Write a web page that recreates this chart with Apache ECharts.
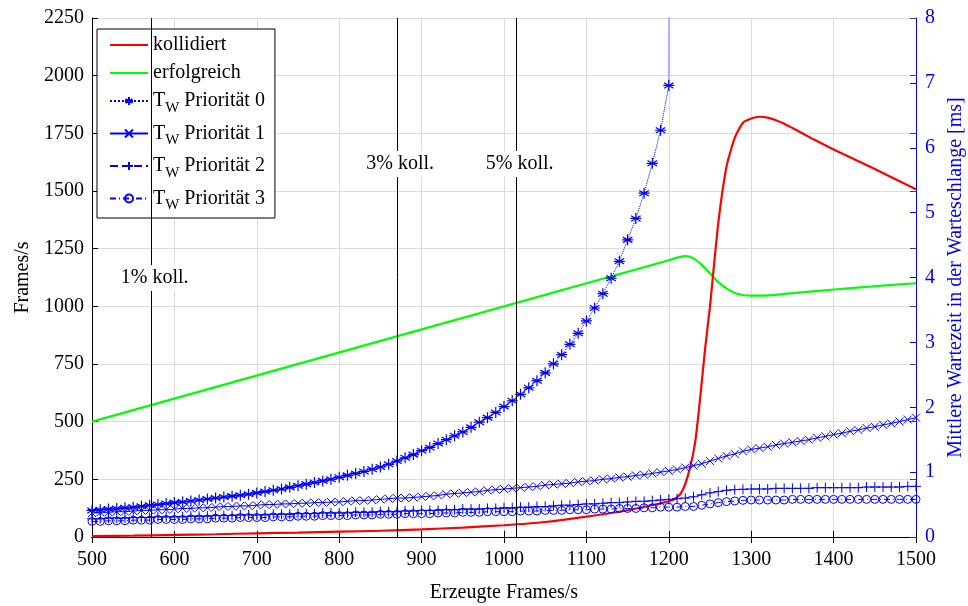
<!DOCTYPE html>
<html><head><meta charset="utf-8">
<script src="https://cdn.jsdelivr.net/npm/echarts@6/dist/echarts.min.js"></script>
<style>html,body{margin:0;padding:0;background:#fff}#c{width:968px;height:606px}</style>
</head><body><div id="c"></div>
<script>
const FONT = 'Liberation Serif';

// x samples of the waiting-time curves (Erzeugte Frames/s)
const frameSteps = [500,510,520,530,540,550,560,570,580,590,600,610,620,630,640,650,660,670,680,690,
  700,710,720,730,740,750,760,770,780,790,800,810,820,830,840,850,860,870,880,890,
  900,910,920,930,940,950,960,970,980,990,1000,1010,1020,1030,1040,1050,1060,1070,1080,1090,
  1100,1110,1120,1130,1140,1150,1160,1170,1180,1190,1200,1210,1220,1230,1240,1250,1260,1270,1280,1290,
  1300,1310,1320,1330,1340,1350,1360,1370,1380,1390,1400,1410,1420,1430,1440,1450,1460,1470,1480,1490,1500];

// kollidiert (Frames/s)
const redX = [500,550,600,650,700,750,800,850,900,950,1000,1050,1100,1150,1200,1210,1217,1225,1232,1238,1244,1250,1260,1270,1280,1290,1300,1310,1320,1330,1340,1350,1375,1400,1450,1500];
const kollidiert = [4,6,9,12,16,19,23,27,33,41,51,65,88,116,155,172,204,290,410,600,815,1000,1360,1605,1730,1796,1814,1822,1818,1807,1792,1773,1725,1680,1595,1508];

// erfolgreich (Frames/s)
const greenX = [500,1200,1210,1220,1230,1240,1250,1260,1270,1280,1290,1300,1310,1350,1400,1450,1500];
const erfolgreich = [500,1200,1211,1218,1208,1180,1143,1105,1078,1058,1049,1046,1046,1057,1073,1087,1100];

// mittlere Wartezeit [ms]
const prio0 = [0.41,0.42,0.43,0.44,0.45,0.46,0.475,0.49,0.50,0.515,
  0.53,0.54,0.555,0.57,0.585,0.60,0.615,0.63,0.645,0.66,
  0.68,0.70,0.72,0.74,0.765,0.79,0.815,0.84,0.865,0.89,
  0.92,0.95,0.98,1.01,1.045,1.08,1.12,1.17,1.22,1.27,
  1.33,1.38,1.44,1.50,1.56,1.62,1.69,1.77,1.84,1.92,
  2.01,2.10,2.20,2.30,2.41,2.53,2.67,2.81,2.97,3.14,
  3.33,3.53,3.75,3.99,4.25,4.58,4.91,5.30,5.76,6.27,
  6.96,60];
const prio1 = [0.37,0.38,0.38,0.39,0.39,0.40,0.41,0.41,0.42,0.42,
  0.43,0.44,0.44,0.45,0.45,0.46,0.47,0.47,0.48,0.48,
  0.49,0.50,0.50,0.51,0.51,0.52,0.52,0.53,0.53,0.54,
  0.54,0.55,0.56,0.56,0.57,0.58,0.59,0.60,0.60,0.61,
  0.62,0.63,0.64,0.66,0.67,0.68,0.69,0.70,0.72,0.73,
  0.74,0.75,0.76,0.77,0.78,0.80,0.81,0.82,0.83,0.85,
  0.86,0.87,0.89,0.90,0.92,0.93,0.95,0.96,0.98,1.00,
  1.02,1.04,1.07,1.10,1.13,1.17,1.21,1.25,1.28,1.32,
  1.35,1.37,1.39,1.42,1.44,1.46,1.48,1.50,1.53,1.55,
  1.58,1.60,1.63,1.65,1.68,1.70,1.73,1.75,1.78,1.81,
  1.84];
const prio2 = [0.28,0.28,0.29,0.29,0.29,0.30,0.30,0.30,0.31,0.31,
  0.31,0.31,0.32,0.32,0.32,0.33,0.33,0.33,0.34,0.34,
  0.34,0.34,0.35,0.35,0.35,0.36,0.36,0.36,0.37,0.37,
  0.37,0.37,0.38,0.38,0.38,0.39,0.39,0.39,0.40,0.40,
  0.41,0.41,0.41,0.42,0.42,0.43,0.43,0.43,0.44,0.44,
  0.45,0.45,0.46,0.46,0.47,0.47,0.48,0.49,0.49,0.50,
  0.51,0.51,0.52,0.53,0.53,0.54,0.55,0.55,0.56,0.57,
  0.58,0.59,0.60,0.62,0.65,0.68,0.70,0.72,0.73,0.735,
  0.74,0.74,0.74,0.75,0.75,0.75,0.75,0.75,0.76,0.76,
  0.76,0.76,0.76,0.76,0.77,0.77,0.77,0.77,0.77,0.78,
  0.78];
const prio3 = [0.24,0.24,0.25,0.25,0.25,0.26,0.26,0.26,0.27,0.27,
  0.27,0.27,0.28,0.28,0.28,0.29,0.29,0.29,0.30,0.30,
  0.30,0.30,0.31,0.31,0.31,0.32,0.32,0.32,0.33,0.33,
  0.33,0.33,0.34,0.34,0.34,0.35,0.35,0.35,0.36,0.36,
  0.36,0.36,0.37,0.37,0.37,0.38,0.38,0.38,0.39,0.39,
  0.39,0.39,0.40,0.40,0.40,0.41,0.41,0.41,0.42,0.42,
  0.42,0.43,0.43,0.43,0.44,0.44,0.44,0.45,0.45,0.46,
  0.46,0.46,0.47,0.47,0.49,0.51,0.53,0.545,0.555,0.565,
  0.57,0.57,0.57,0.57,0.57,0.58,0.58,0.58,0.58,0.58,
  0.58,0.58,0.58,0.58,0.58,0.58,0.58,0.58,0.58,0.58,
  0.58];

// collision thresholds (vertical markers)
const kollThresholds = [572, 870, 1015];
const kollLabels = ['1% koll.', '3% koll.', '5% koll.'];
const kollLabelLevels = [1123, 1617, 1617];

const seriesNames = ['kollidiert','erfolgreich','T_W Priorität 0','T_W Priorität 1','T_W Priorität 2','T_W Priorität 3'];

const zip = (xs, ys) => ys.map((y, i) => [xs[i], y]);

const BLUE = '#0000ff';
const STAR = 'path://M5,0L5,10M0.67,2.5L9.33,7.5M0.67,7.5L9.33,2.5M0,5L10,5';
const CROSS = 'path://M0,0L10,10M0,10L10,0';
const PLUS = 'path://M5,0L5,10M0,5L10,5';

function blueSeries(name, data, symbol, size, lineType, bw) {
  return {
    name, type: 'line', yAxisIndex: 1, data, symbol, symbolSize: size,
    showAllSymbol: true, silent: true, clip: true,
    lineStyle: { color: BLUE, width: 1, type: lineType },
    itemStyle: { color: 'transparent', borderColor: BLUE, borderWidth: bw || 1 },
    emphasis: { disabled: true }
  };
}

const chart = echarts.init(document.getElementById('c'));
const txt = { fontFamily: FONT, fontSize: 20, color: '#000' };
const plain = v => String(v);
chart.setOption({
  animation: false,
  backgroundColor: '#fff',
  textStyle: { fontFamily: FONT },
  grid: { left: 92, right: 52, top: 18, bottom: 69, containLabel: false, outerBoundsMode: 'none' },
  legend: {
    orient: 'vertical', left: 97, top: 29,
    backgroundColor: '#fff', borderColor: '#000', borderWidth: 1,
    padding: [6, 10, 5, 12], itemGap: 8, itemWidth: 38, itemHeight: 10,
    data: seriesNames.map((n, i) => i < 2 ? { name: n, itemStyle: { opacity: 0 } } : { name: n }),
    formatter: n => n.startsWith('T_W') ? 'T{sub|W}' + n.slice(3) : n,
    textStyle: Object.assign({}, txt, { rich: { sub: { fontFamily: FONT, fontSize: 15, padding: [14, 0, 0, 0] } } })
  },
  xAxis: [
    { type: 'value', min: 500, max: 1500, interval: 100, position: 'bottom',
      name: 'Erzeugte Frames/s', nameLocation: 'middle', nameGap: 46, nameTextStyle: txt,
      axisLine: { lineStyle: { color: '#000', width: 1 } },
      axisTick: { inside: true, length: 6, lineStyle: { color: '#000' } },
      axisLabel: Object.assign({ margin: 13, formatter: plain }, txt),
      splitLine: { show: true, lineStyle: { color: '#dcdcdc', width: 1 } } },
    { type: 'value', min: 500, max: 1500, interval: 100, position: 'top',
      axisLine: { lineStyle: { color: '#000', width: 1 } },
      axisTick: { inside: true, length: 6, lineStyle: { color: '#000' } },
      axisLabel: { show: false }, splitLine: { show: false } }
  ],
  yAxis: [
    { type: 'value', min: 0, max: 2250, interval: 250, position: 'left',
      name: 'Frames/s', nameLocation: 'middle', nameGap: 59, nameRotate: 90, nameTextStyle: txt,
      axisLine: { show: true, lineStyle: { color: '#000', width: 1 } },
      axisTick: { show: true, inside: true, length: 6, lineStyle: { color: '#000' } },
      axisLabel: Object.assign({ margin: 8, formatter: plain }, txt),
      splitLine: { show: true, lineStyle: { color: '#dcdcdc', width: 1 } } },
    { type: 'value', min: 0, max: 8, interval: 1, position: 'right',
      name: 'Mittlere Wartezeit in der Warteschlange [ms]', nameLocation: 'middle', nameGap: 27, nameRotate: 90,
      nameTextStyle: Object.assign({}, txt, { color: BLUE }),
      axisLine: { show: true, lineStyle: { color: BLUE, width: 1 } },
      axisTick: { show: true, inside: true, length: 6, lineStyle: { color: BLUE } },
      axisLabel: Object.assign({ margin: 9 }, txt, { color: BLUE }),
      splitLine: { show: false } },
    { type: 'value', min: 0, max: 2250, interval: 250, position: 'right',
      axisLine: { show: false },
      axisTick: { show: true, inside: true, length: 6, lineStyle: { color: '#444' } },
      axisLabel: { show: false }, splitLine: { show: false } }
  ],
  series: [
    { name: seriesNames[0], type: 'line', data: zip(redX, kollidiert), showSymbol: false, symbol: 'none', smooth: 0.2,
      lineStyle: { color: '#ff0000', width: 2.2 }, itemStyle: { color: '#ff0000' }, silent: true, z: 3 },
    { name: seriesNames[1], type: 'line', data: zip(greenX, erfolgreich), showSymbol: false, symbol: 'none', smooth: 0.3,
      lineStyle: { color: '#00ff00', width: 2.2 }, itemStyle: { color: '#00ff00' }, silent: true, z: 2,
      markLine: { silent: true, symbol: ['none', 'none'], animation: false,
        lineStyle: { color: '#000', width: 1, type: 'solid' }, label: { show: false },
        data: kollThresholds.map(v => ({ xAxis: v })) },
      markPoint: { silent: true, symbol: 'circle', symbolSize: 0, animation: false,
        label: Object.assign({ show: true, position: 'inside', formatter: p => p.name,
          backgroundColor: '#fff', padding: [3, 2] }, txt),
        data: kollThresholds.map((v, i) => ({ name: kollLabels[i], coord: [v + 4, kollLabelLevels[i]] })) } },
    blueSeries(seriesNames[2], zip(frameSteps, prio0), STAR, 11, 'dotted', 1.2),
    blueSeries(seriesNames[3], zip(frameSteps, prio1), CROSS, 8, 'solid'),
    blueSeries(seriesNames[4], zip(frameSteps, prio2), PLUS, 10, 'dashed'),
    blueSeries(seriesNames[5], zip(frameSteps, prio3), 'circle', 8, [6, 3, 1, 3])
  ]
});
</script></body></html>
